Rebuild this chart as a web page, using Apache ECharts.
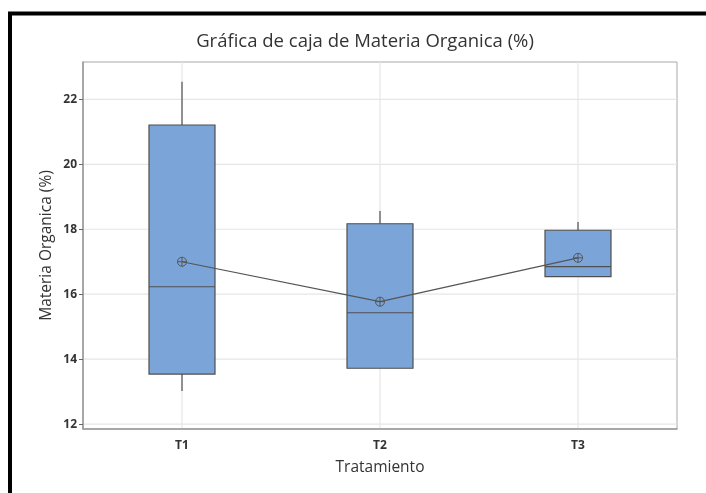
<!DOCTYPE html>
<html>
<head>
<meta charset="utf-8">
<script src="https://cdn.jsdelivr.net/npm/echarts@6/dist/echarts.min.js"></script>
<style>
    html, body { margin: 0; padding: 0; background: #fff; }
    #chart { width: 706px; height: 493px; }
</style>
</head>
<body>
<div id="chart"></div>
<script>
    // datos
    var categories = ['T1', 'T2', 'T3'];
    var whiskerMin = [13.02, 13.72, 16.54];
    var q1 = [13.54, 13.72, 16.54];
    var median = [16.23, 15.43, 16.85];
    var q3 = [21.21, 18.17, 17.97];
    var whiskerMax = [22.54, 18.56, 18.22];
    var means = [17.0, 15.77, 17.12];
    var yTicks = [12, 14, 16, 18, 20, 22];

    var boxData = categories.map(function (c, i) {
        return [i, whiskerMin[i], q1[i], median[i], q3[i], whiskerMax[i]];
    });

    var myChart = echarts.init(document.getElementById('chart'));
    var font = '"Open Sans", "Noto Sans", sans-serif';
    var meanSymbol = 'path://M0,5 A5,5 0 1,1 10,5 A5,5 0 1,1 0,5 Z M5,0 L5,10 M0,5 L10,5';

    var option = {
        animation: false,
        title: {
            text: 'Gráfica de caja de Materia Organica (%)',
            left: 360,
            textAlign: 'center',
            top: 27,
            textStyle: { fontFamily: font, fontSize: 18.5, fontWeight: 'normal', color: '#333' }
        },
        grid: {
            left: 83, right: 29, top: 62, bottom: 64,
            show: true, borderColor: '#a8a8a8', borderWidth: 1
        },
        xAxis: {
            type: 'category',
            data: categories,
            name: 'Tratamiento',
            nameLocation: 'middle',
            nameGap: 31,
            nameTextStyle: { fontFamily: font, fontSize: 15.5, color: '#333' },
            axisLine: { lineStyle: { color: '#999', width: 1.5 } },
            axisTick: { alignWithLabel: true, length: 4, lineStyle: { color: '#666' } },
            axisLabel: { fontFamily: font, fontSize: 12, fontWeight: 'bold', color: '#333', margin: 11 },
            splitLine: { show: false }
        },
        yAxis: {
            type: 'value',
            min: 11.85,
            max: 23.15,
            name: 'Materia Organica (%)',
            nameLocation: 'middle',
            nameGap: 28,
            nameMoveOverlap: false,
            nameTextStyle: { fontFamily: font, fontSize: 15.5, color: '#333' },
            axisLine: { show: true, lineStyle: { color: '#999', width: 1.5 } },
            axisTick: { show: true, length: 4, customValues: yTicks, lineStyle: { color: '#666' } },
            axisLabel: { fontFamily: font, fontSize: 12, fontWeight: 'bold', color: '#333', margin: 6, customValues: yTicks },
            splitLine: { show: false }
        },
        graphic: [{
            type: 'rect',
            shape: { x: 10, y: 13.5, width: 720, height: 520 },
            style: { fill: 'none', stroke: '#000', lineWidth: 4 }
        }],
        series: [{
            // lineas de cuadricula
            type: 'custom',
            silent: true,
            z: 0,
            data: categories.map(function (c, i) { return [i]; }),
            renderItem: function (params, api) {
                var cs = params.coordSys;
                var children = [];
                var p = api.coord([api.value(0), 0]);
                children.push({
                    type: 'line',
                    shape: { x1: p[0], y1: cs.y, x2: p[0], y2: cs.y + cs.height },
                    style: { stroke: '#e6e6e6', lineWidth: 1.2 }
                });
                if (params.dataIndex === 0) {
                    yTicks.forEach(function (t) {
                        var q = api.coord([0, t]);
                        children.push({
                            type: 'line',
                            shape: { x1: cs.x, y1: q[1], x2: cs.x + cs.width, y2: q[1] },
                            style: { stroke: '#e6e6e6', lineWidth: 1.2 }
                        });
                    });
                }
                return { type: 'group', children: children };
            }
        }, {
            type: 'custom',
            z: 2,
            data: boxData,
            renderItem: function (params, api) {
                var i = api.value(0);
                var bw = api.size([1, 0])[0] / 3;
                var pMin = api.coord([i, api.value(1)]);
                var pQ1 = api.coord([i, api.value(2)]);
                var pMed = api.coord([i, api.value(3)]);
                var pQ3 = api.coord([i, api.value(4)]);
                var pMax = api.coord([i, api.value(5)]);
                var stroke = { stroke: '#4f4f4f', lineWidth: 1.2 };
                return {
                    type: 'group',
                    children: [{
                        type: 'line',
                        shape: { x1: pMax[0], y1: pMax[1], x2: pQ3[0], y2: pQ3[1] },
                        style: stroke
                    }, {
                        type: 'line',
                        shape: { x1: pMin[0], y1: pMin[1], x2: pQ1[0], y2: pQ1[1] },
                        style: stroke
                    }, {
                        type: 'rect',
                        shape: { x: pQ3[0] - bw / 2, y: pQ3[1], width: bw, height: pQ1[1] - pQ3[1] },
                        style: { fill: '#7ba5d9', stroke: '#4f4f4f', lineWidth: 1.2 }
                    }, {
                        type: 'line',
                        shape: { x1: pMed[0] - bw / 2, y1: pMed[1], x2: pMed[0] + bw / 2, y2: pMed[1] },
                        style: stroke
                    }]
                };
            }
        }, {
            name: 'Media',
            type: 'line',
            z: 3,
            data: means,
            symbol: meanSymbol,
            symbolSize: 9,
            lineStyle: { color: '#555', width: 1.2 },
            itemStyle: { color: 'none', borderColor: '#555', borderWidth: 1 }
        }]
    };
    myChart.setOption(option);
</script>
</body>
</html>
